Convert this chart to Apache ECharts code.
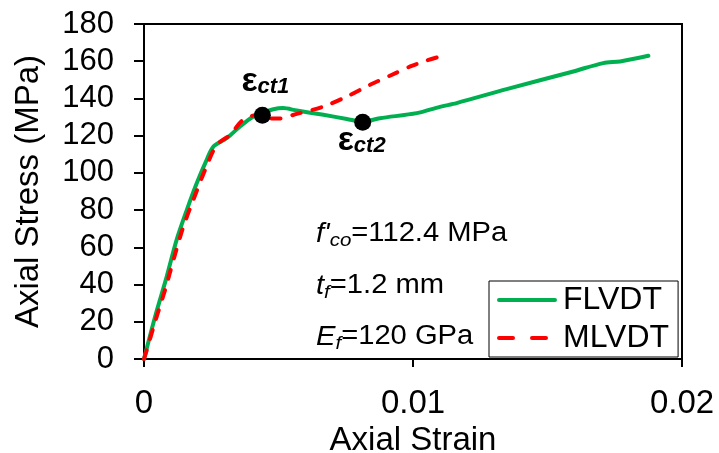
<!DOCTYPE html>
<html>
<head>
<meta charset="utf-8">
<script src="https://cdn.jsdelivr.net/npm/echarts@6/dist/echarts.min.js"></script>
<style>html,body{margin:0;padding:0;background:#fff;}#c{width:719px;height:453px;}</style>
</head>
<body>
<div id="c"></div>
<script>
const FONT = '"Liberation Sans", Arial, sans-serif';

const xTicks = [0, 0.01, 0.02];
const yTicks = [0, 20, 40, 60, 80, 100, 120, 140, 160, 180];

const flvdtStrain = [0, 0.00041, 0.00084, 0.00121, 0.00159, 0.00196, 0.00233, 0.00258, 0.00307, 0.00357, 0.00406, 0.0044, 0.00481, 0.00517, 0.00568, 0.00667, 0.00754, 0.00813, 0.00877, 0.01014, 0.0110, 0.01162, 0.01348, 0.01596, 0.01707, 0.0177, 0.01875];
const flvdtStress = [0, 22.6, 44, 63.9, 80, 94.4, 107, 114.1, 118.6, 124.9, 130.3, 132.3, 134.2, 134.8, 133.5, 131.2, 129, 127.5, 129.4, 132.1, 135.5, 137.5, 145, 154.5, 159, 159.9, 162.9];

const mlvdtStrain = [0, 0.0001, 0.00041, 0.00078, 0.00109, 0.00146, 0.00183, 0.00227, 0.0027, 0.0032, 0.00369, 0.0044, 0.0047, 0.0050, 0.00568, 0.00667, 0.00754, 0.0084, 0.00914, 0.0099, 0.01051, 0.01115];
const mlvdtStress = [0, 4.7, 19.9, 37, 53, 71, 85.4, 101.6, 115, 120.4, 128.5, 131.7, 129.3, 129.2, 131.7, 135.6, 141, 147.3, 152.2, 157.2, 160.4, 163.1];

const pointNames = ['ct1', 'ct2'];
const pointStrain = [0.0044, 0.00813];
const pointStress = [131, 127.2];

const seriesNames = ['FLVDT', 'MLVDT'];
const notes = [
  {main: "f'", sub: 'co', rest: '=112.4 MPa'},
  {main: 't', sub: 'f', rest: '=1.2 mm'},
  {main: 'E', sub: 'f', rest: '=120 GPa'}
];

const zip = (a, b) => a.map((v, i) => [v, b[i]]);

const labelOffsets = [[3, -34], [-1, 18]];

const chart = echarts.init(document.getElementById('c'), null, {renderer: 'canvas'});

const noteY = [234, 286, 337];
const graphics = notes.map((n, i) => ({
  type: 'text',
  x: 316,
  y: noteY[i],
  scaleX: 1.08,
  z: 10,
  style: {
    text: '{m|' + n.main + '}{s|' + n.sub + '}{r|' + n.rest + '}',
    verticalAlign: 'middle',
    align: 'left',
    rich: {
      m: {fontFamily: FONT, fontSize: 27, fontStyle: 'italic', fill: '#000'},
      s: {fontFamily: FONT, fontSize: 19, fontStyle: 'italic', fill: '#000', padding: [14, 0, 0, 0]},
      r: {fontFamily: FONT, fontSize: 27, fill: '#000'}
    }
  }
}));

chart.setOption({
  animation: false,
  backgroundColor: '#fff',
  textStyle: {fontFamily: FONT},
  grid: {left: 144, right: 37, top: 24, bottom: 94, show: true, borderColor: '#000', borderWidth: 2, backgroundColor: 'transparent', containLabel: false, outerBoundsMode: 'none'},
  xAxis: {
    type: 'value', min: xTicks[0], max: xTicks[xTicks.length - 1], interval: 0.01,
    name: 'Axial Strain', nameLocation: 'middle', nameGap: 59,
    nameTextStyle: {fontFamily: FONT, fontSize: 33, color: '#000'},
    axisLine: {show: true, onZero: false, lineStyle: {color: '#000', width: 2}},
    axisTick: {show: true, inside: false, length: 8, lineStyle: {color: '#000', width: 2}},
    axisLabel: {fontFamily: FONT, fontSize: 33, color: '#000', margin: 28},
    splitLine: {show: false}
  },
  yAxis: {
    type: 'value', min: yTicks[0], max: yTicks[yTicks.length - 1], interval: 20,
    name: 'Axial Stress (MPa)', nameLocation: 'middle', nameGap: 99,
    nameTextStyle: {fontFamily: FONT, fontSize: 33, color: '#000'},
    axisLine: {show: true, onZero: false, lineStyle: {color: '#000', width: 2}},
    axisTick: {show: true, inside: false, length: 10, lineStyle: {color: '#000', width: 2}},
    axisLabel: {fontFamily: FONT, fontSize: 31, color: '#000', margin: 30},
    splitLine: {show: false}
  },
  legend: {
    show: true,
    orient: 'vertical', left: 489, top: 281,
    padding: [3, 9, 3, 8], itemGap: 6, itemWidth: 56, itemHeight: 14,
    backgroundColor: '#fff', borderColor: '#000', borderWidth: 1, borderRadius: 0,
    textStyle: {fontFamily: FONT, fontSize: 32, color: '#000', padding: [0, 0, 0, 3]},
    itemStyle: {opacity: 0},
    data: [
      {name: 'FLVDT', lineStyle: {width: 4, cap: 'round'}},
      {name: 'MLVDT', lineStyle: {width: 4, cap: 'round', type: [14, 19]}}
    ]
  },
  graphic: graphics,
  series: [
    {
      name: seriesNames[0], type: 'line', data: zip(flvdtStrain, flvdtStress),
      symbol: 'none', smooth: 0.3, clip: false,
      lineStyle: {color: '#00b050', width: 4, cap: 'round', join: 'round'},
      itemStyle: {color: '#00b050'}, z: 2
    },
    {
      name: seriesNames[1], type: 'line', data: zip(mlvdtStrain, mlvdtStress),
      symbol: 'none', smooth: 0.3, clip: false,
      lineStyle: {color: '#ff0000', width: 4, type: [9, 12], cap: 'round', join: 'round'},
      itemStyle: {color: '#ff0000'}, z: 3
    },
    {
      type: 'scatter', symbolSize: 17, z: 5,
      itemStyle: {color: '#000', opacity: 1},
      emphasis: {disabled: true},
      data: pointStrain.map((v, i) => ({
        value: [v, pointStress[i]],
        label: {
          show: true, position: 'inside', offset: labelOffsets[i], opacity: 1,
          formatter: '{e|ε}{s|' + pointNames[i] + '}',
          rich: {
            e: {fontFamily: FONT, fontSize: 34, fontWeight: 'bold', color: '#000'},
            s: {fontFamily: FONT, fontSize: 22, fontWeight: 'bold', fontStyle: 'italic', color: '#000', padding: [12, 0, 0, 0]}
          }
        }
      }))
    }
  ]
});
</script>
</body>
</html>
